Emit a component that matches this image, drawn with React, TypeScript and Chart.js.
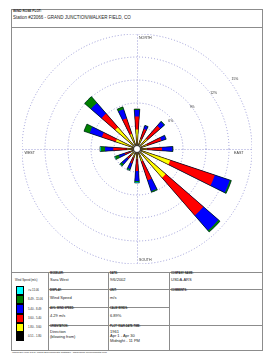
import React, { useEffect, useRef } from "react";
import { Chart, registerables } from "chart.js";
Chart.register(...registerables);

const FONT = '"Liberation Sans", Arial, sans-serif';

const directions = ["N", "NNE", "NE", "ENE", "E", "ESE", "SE", "SSE", "S", "SSW", "SW", "WSW", "W", "WNW", "NW", "NNW"];
const speedClasses = ["0.51 - 1.80", "1.80 - 3.60", "3.60 - 5.40", "5.40 - 8.49", "8.49 - 11.06", ">= 11.06"];
const classColors = ["#000000", "#ffff00", "#ff0000", "#0000ff", "#008000", "#00ffff"];

// frequency (%) per direction, one array per wind speed class
const speed051to180 = [0.45, 0.38, 0.41, 0.36, 0.44, 0.52, 0.55, 0.47, 0.43, 0.39, 0.35, 0.33, 0.42, 0.46, 0.5, 0.44];
const speed180to360 = [2.09, 1.0, 1.36, 1.04, 0.86, 4.05, 4.41, 1.23, 0.87, 0.78, 0.69, 0.58, 0.88, 2.46, 3.28, 1.65];
const speed360to540 = [1.7, 1.36, 2.25, 1.95, 1.96, 6.13, 6.52, 2.6, 1.57, 0.79, 0.66, 0.79, 1.79, 1.91, 2.35, 2.15];
const speed540to849 = [0.85, 0.46, 0.68, 0.62, 1.37, 2.08, 2.61, 1.5, 1.3, 0.78, 0.91, 0.78, 1.08, 1.67, 1.83, 1.24];
const speed849to1106 = [0.13, 0.06, 0.09, 0.05, 0.07, 0.2, 0.26, 0.15, 0.13, 0.17, 0.32, 0.52, 0.53, 0.79, 1.1, 0.32];
const speedOver1106 = [0, 0, 0, 0, 0, 0, 0, 0, 0.13, 0.06, 0.07, 0.09, 0.13, 0, 0, 0];
const classData = [speed051to180, speed180to360, speed360to540, speed540to849, speed849to1106, speedOver1106];

const ringValues = [3, 6, 9, 12, 15];
const ringLabels = ["3%", "6%", "9%", "12%", "15%"];
const compassLabels = ["NORTH", "EAST", "SOUTH", "WEST"];

const PETAL_DEG = 8;
const GAP_DEG = 22.5 - PETAL_DEG;
const GRID = "#9a9ad6";

const rosePlugin = {
  id: "rose",
  beforeDatasetsDraw(chart: any) {
    const s = chart.scales.r;
    const ctx = chart.ctx;
    const R = s.getDistanceFromCenterForValue(ringValues[ringValues.length - 1]);
    const cx = s.xCenter + 0.5;
    const cy = s.yCenter + 0.5;
    ctx.save();
    ctx.strokeStyle = GRID;
    ctx.lineWidth = 1;
    ctx.setLineDash([1, 2]);
    ctx.beginPath();
    ctx.moveTo(cx - R, cy);
    ctx.lineTo(cx + R, cy);
    ctx.moveTo(cx, cy - R);
    ctx.lineTo(cx, cy + R);
    ctx.stroke();
    ctx.setLineDash([]);
    ctx.font = `3.6px ${FONT}`;
    ctx.textBaseline = "middle";
    const put = (t: string, x: number, y: number, align: string) => {
      ctx.textAlign = align;
      const w = ctx.measureText(t).width;
      const lx = align === "right" ? x - w : x;
      ctx.fillStyle = "#ffffff";
      ctx.fillRect(lx - 0.5, y - 2, w + 1, 4);
      ctx.fillStyle = "#333333";
      ctx.fillText(t, x, y);
    };
    put(compassLabels[0], cx + 1.5, cy - R + 3, "left");
    put(compassLabels[1], cx + R - 9, cy + 3, "right");
    put(compassLabels[2], cx + 1.5, cy + R - 5, "left");
    put(compassLabels[3], cx - R + 2, cy + 3, "left");
    ctx.restore();
  },
  afterDatasetsDraw(chart: any) {
    const s = chart.scales.r;
    const ctx = chart.ctx;
    const meta = chart.getDatasetMeta(chart.data.datasets.length - 1);
    ctx.save();
    ctx.strokeStyle = "#000000";
    ctx.lineWidth = 0.6;
    meta.data.forEach((el: any) => {
      const p = el.getProps(["x", "y", "startAngle", "endAngle", "outerRadius"], true);
      if (p.outerRadius <= 0.5) return;
      ctx.beginPath();
      ctx.moveTo(p.x, p.y);
      ctx.arc(p.x, p.y, p.outerRadius, p.startAngle, p.endAngle);
      ctx.closePath();
      ctx.stroke();
    });
    // calm circle
    ctx.beginPath();
    ctx.arc(s.xCenter, s.yCenter, 3.5, 0, Math.PI * 2);
    ctx.fillStyle = "#ffffff";
    ctx.fill();
    ctx.lineWidth = 0.7;
    ctx.stroke();
    // ring labels
    ctx.font = `3.4px ${FONT}`;
    ctx.textAlign = "center";
    ctx.textBaseline = "middle";
    ctx.fillStyle = "#333333";
    for (let i = 1; i < ringValues.length; i++) {
      const r = s.getDistanceFromCenterForValue(ringValues[i]);
      ctx.fillText(ringLabels[i], s.xCenter + 0.93 * r - 9, s.yCenter - 0.6 * r - 0.5);
    }
    ctx.restore();
  },
};

function abs(left: number, top: number, extra: any = {}) {
  return { position: "absolute" as const, left, top, ...extra };
}

function Txt({ x, y, size, children, bold }: any) {
  return (
    <div
      style={abs(x, y - size / 2, {
        fontSize: size,
        lineHeight: 1,
        whiteSpace: "nowrap",
        fontFamily: FONT,
        fontWeight: bold ? 700 : 400,
        color: "#222",
      })}
    >
      {children}
    </div>
  );
}

const LINE = "#8c8c8c";
function HLine({ x1, x2, y }: any) {
  return <div style={abs(x1, y, { width: x2 - x1, height: 1, background: LINE })} />;
}
function VLine({ x, y1, y2 }: any) {
  return <div style={abs(x, y1, { width: 1, height: y2 - y1, background: LINE })} />;
}

export default function App() {
  const ref = useRef<HTMLCanvasElement>(null);
  useEffect(() => {
    const labels: string[] = [];
    directions.forEach((d) => {
      labels.push(d);
      labels.push("");
    });
    const cumulative: number[][] = [];
    classData.forEach((arr, c) => {
      cumulative.push(arr.map((v, i) => (c === 0 ? v : cumulative[c - 1][i] + v)));
    });
    const datasets = cumulative.map((cum, c) => {
      const data: number[] = [];
      cum.forEach((v) => {
        data.push(+v.toFixed(3));
        data.push(0);
      });
      return {
        label: speedClasses[c],
        data,
        backgroundColor: classColors[c],
        borderWidth: 0,
        angle: (ctx: any) => (ctx.dataIndex % 2 === 0 ? PETAL_DEG : GAP_DEG),
      };
    });
    const chart = new Chart(ref.current as HTMLCanvasElement, {
      type: "polarArea",
      data: { labels, datasets },
      options: {
        animation: false,
        responsive: true,
        maintainAspectRatio: false,
        events: [],
        layout: { padding: 0 },
        plugins: { legend: { display: false }, tooltip: { enabled: false } },
        scales: {
          r: {
            min: 0,
            max: ringValues[ringValues.length - 1],
            startAngle: -PETAL_DEG / 2,
            ticks: { display: false, stepSize: 3 },
            grid: { color: GRID, lineWidth: 1, circular: true },
            border: { dash: [1, 2] },
            angleLines: { display: false },
            pointLabels: { display: false },
          },
        },
      } as any,
      plugins: [rosePlugin as any],
    });
    return () => chart.destroy();
  }, []);

  const swTop = 286;
  const swH = 9.2;
  const legendOrder = [5, 4, 3, 2, 1, 0];

  return (
    <div style={{ position: "fixed", left: 0, top: 0, width: 272, height: 362, background: "#fff", overflow: "hidden" }}>
      {/* outer frame */}
      <div style={abs(11, 9, { width: 252, height: 342, border: `1px solid ${LINE}`, boxSizing: "border-box" })} />
      <HLine x1={11} x2={262} y={27} />
      <Txt x={13} y={11.5} size={3.2} bold>
        WIND ROSE PLOT:
      </Txt>
      <Txt x={13} y={18} size={4.5}>
        Station #23066 - GRAND JUNCTION/WALKER FIELD, CO
      </Txt>

      {/* rose */}
      <div style={abs(22, 34, { width: 230, height: 230 })}>
        <canvas ref={ref} />
      </div>

      {/* table */}
      <HLine x1={11} x2={262} y={272} />
      <VLine x={48} y1={272} y2={350} />
      <VLine x={108} y1={272} y2={350} />
      <VLine x={169} y1={272} y2={350} />
      <HLine x1={48} x2={262} y={289} />
      <HLine x1={48} x2={169} y={307} />
      <HLine x1={48} x2={262} y={325} />

      <Txt x={15} y={280} size={2.8}>
        Wind Speed (m/s)
      </Txt>
      {legendOrder.map((c, k) => (
        <React.Fragment key={c}>
          <div
            style={abs(16, swTop + k * swH, {
              width: 8,
              height: swH,
              background: classColors[c],
              boxSizing: "border-box",
              border: "0.5px solid #000",
            })}
          />
          <Txt x={28} y={swTop + k * swH + swH / 2} size={2.8}>
            {speedClasses[c]}
          </Txt>
        </React.Fragment>
      ))}

      <Txt x={50} y={274} size={2.6} bold>MODELER:</Txt>
      <Txt x={50} y={280} size={4}>Sara West</Txt>
      <Txt x={50} y={291.5} size={2.6} bold>DISPLAY:</Txt>
      <Txt x={50} y={298} size={4}>Wind Speed</Txt>
      <Txt x={50} y={309.5} size={2.6} bold>AVG. WIND SPEED:</Txt>
      <Txt x={50} y={316} size={4}>4.29 m/s</Txt>
      <Txt x={50} y={327} size={2.6} bold>ORIENTATION:</Txt>
      <Txt x={50} y={332} size={4}>Direction</Txt>
      <Txt x={50} y={336.5} size={4}>(blowing from)</Txt>

      <Txt x={110} y={274} size={2.6} bold>DATE:</Txt>
      <Txt x={110} y={280} size={4}>9/6/2002</Txt>
      <Txt x={110} y={291.5} size={2.6} bold>UNIT:</Txt>
      <Txt x={110} y={298} size={4}>m/s</Txt>
      <Txt x={110} y={309.5} size={2.6} bold>CALM WINDS:</Txt>
      <Txt x={110} y={316} size={4}>6.89%</Txt>
      <Txt x={110} y={327} size={2.6} bold>PLOT YEAR-DATE-TIME:</Txt>
      <Txt x={110} y={332} size={4}>1961</Txt>
      <Txt x={110} y={336.3} size={4}>Apr 1 - Apr 30</Txt>
      <Txt x={110} y={340.6} size={4}>Midnight - 11 PM</Txt>

      <Txt x={171} y={274} size={2.6} bold>COMPANY NAME:</Txt>
      <Txt x={171} y={280} size={4}>USDA-ARS</Txt>
      <Txt x={171} y={291.5} size={2.6} bold>COMMENTS:</Txt>

      <Txt x={12} y={353.5} size={2.5}>
        WRPLOT View 3.5 by Lakes Environmental Software - www.lakes-environmental.com
      </Txt>
    </div>
  );
}
